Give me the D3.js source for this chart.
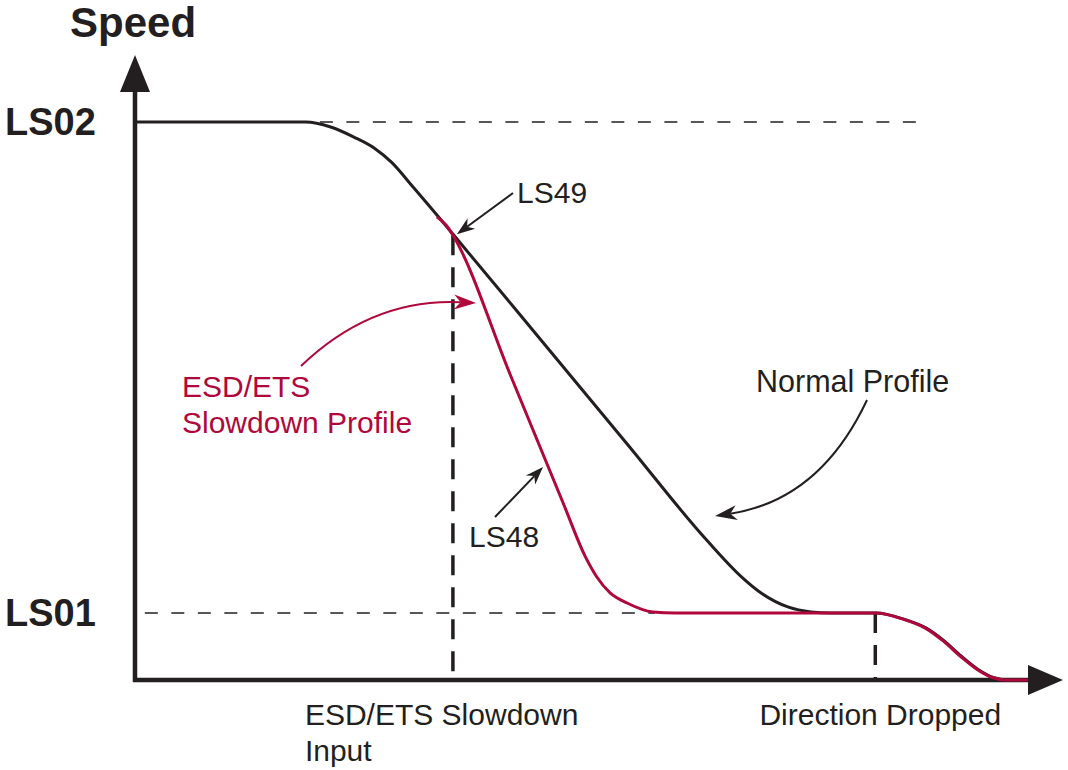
<!DOCTYPE html>
<html>
<head>
<meta charset="utf-8">
<script src="https://cdn.jsdelivr.net/npm/d3@7"></script>
<style>
  html, body { margin: 0; padding: 0; background: #fff; }
  svg { display: block; font-family: "Liberation Sans", Arial, Helvetica, sans-serif; }
</style>
</head>
<body>
<svg id="chart" width="1068" height="770"></svg>
<script>
// Speed levels (percent of full speed)
const levelNames = ["LS02", "LS01"];
const levelValues = [100, 12];

// Event markers along the time axis
const eventNames = ["ESD/ETS Slowdown Input", "Direction Dropped"];
const eventTimes = [35.6, 82.9];
const eventSpeeds = [79.7, 12];

// Normal deceleration profile (time, speed)
const normalT = [0, 19.0, 21.8, 24.4, 26.7, 28.6, 31.1, 35.6, 45, 55, 64, 67.8, 70.0, 73.0, 75.6, 77.8, 82.9,
                 86.0, 88.5, 90.5, 92.4, 94.3, 96.1, 97.4, 100];
const normalV = [100, 100, 99.1, 97.3, 95.3, 92.8, 88.2, 79.7, 61.6, 42.3, 24.9, 18.5, 15.6, 13.1, 12.2, 12.0, 12.0,
                 10.9, 9.3, 7.0, 4.3, 1.9, 0.4, 0, 0];

// ESD/ETS slowdown profile (time, speed)
const esdT = [33.8, 34.9, 35.6, 42, 48, 50.4, 51.7, 53.2, 55.1, 58.0, 60.5, 70, 82.9,
              86.0, 88.5, 90.5, 92.4, 94.3, 96.1, 97.4, 100];
const esdV = [83.0, 81.4, 79.7, 54.8, 31.5, 22.2, 18.5, 15.6, 13.8, 12.2, 12.0, 12.0, 12.0,
              10.9, 9.3, 7.0, 4.3, 1.9, 0.4, 0, 0];

// Extents of the horizontal guide lines (time)
const guideFrom = [20.7, 1.1];
const guideTo = [88.6, 58.2];

const INK = "#231f20";
const RED = "#b0083c";

const svg = d3.select("#chart");
const x = d3.scaleLinear().domain([0, 100]).range([135, 1028]);
const y = d3.scaleLinear().domain([0, 100]).range([680, 122]);

const line = d3.line().x(d => x(d[0])).y(d => y(d[1])).curve(d3.curveMonotoneX);
const normal = normalT.map((t, i) => [t, normalV[i]]);
const esd = esdT.map((t, i) => [t, esdV[i]]);

// Horizontal guides at each speed level
svg.append("g").selectAll("line").data(levelValues).join("line")
  .attr("x1", (d, i) => x(guideFrom[i])).attr("x2", (d, i) => x(guideTo[i]))
  .attr("y1", d => y(d)).attr("y2", d => y(d))
  .attr("stroke", INK).attr("stroke-width", 1.5).attr("stroke-dasharray", "13,13.5");

// Vertical event guides
svg.append("g").selectAll("line").data(eventTimes).join("line")
  .attr("x1", d => x(d)).attr("x2", d => x(d))
  .attr("y1", (d, i) => y(eventSpeeds[i])).attr("y2", y(0))
  .attr("stroke", INK).attr("stroke-width", 3.5).attr("stroke-dasharray", "20,12");

// Axes with arrowheads
svg.append("line").attr("x1", x(0)).attr("x2", x(0)).attr("y1", y(0) + 2).attr("y2", 88)
  .attr("stroke", INK).attr("stroke-width", 4.5);
svg.append("path").attr("d", `M${x(0) - 15},92 L${x(0)},55 L${x(0) + 15},92 Z`).attr("fill", INK);
svg.append("line").attr("x1", x(0) - 2).attr("x2", 1030).attr("y1", y(0)).attr("y2", y(0))
  .attr("stroke", INK).attr("stroke-width", 4.5);
svg.append("path").attr("d", `M1028,${y(0) - 15} L1063,${y(0)} L1028,${y(0) + 15} Z`).attr("fill", INK);

// Profiles
svg.append("path").attr("d", line(normal)).attr("fill", "none")
  .attr("stroke", INK).attr("stroke-width", 3).attr("transform", "translate(1,0)");
svg.append("path").attr("d", line(esd)).attr("fill", "none")
  .attr("stroke", RED).attr("stroke-width", 3);

// Axis titles and level labels
svg.append("text").attr("x", 70).attr("y", 37).attr("font-size", 42).attr("font-weight", "bold")
  .attr("fill", INK).text("Speed");
svg.append("g").selectAll("text").data(levelNames).join("text")
  .attr("x", 5).attr("y", (d, i) => y(levelValues[i])).attr("dy", "0.35em")
  .attr("font-size", 38).attr("font-weight", "bold").attr("fill", INK).text(d => d);

// Event labels below the time axis
const ev1 = svg.append("text").attr("x", x(eventTimes[0]) - 148).attr("y", 725)
  .attr("font-size", 30).attr("fill", INK);
ev1.append("tspan").text("ESD/ETS Slowdown");
ev1.append("tspan").attr("x", x(eventTimes[0]) - 148).attr("dy", 36).text("Input");
svg.append("text").attr("x", x(eventTimes[1]) + 5).attr("y", 725).attr("text-anchor", "middle")
  .attr("font-size", 30).attr("fill", INK).text(eventNames[1]);

// Annotation arrows
function arrow(p0, c, tip, len, halfW, color, width) {
  const dx = tip[0] - c[0], dy = tip[1] - c[1];
  const L = Math.hypot(dx, dy), ux = dx / L, uy = dy / L, nx = -uy, ny = ux;
  const notch = [tip[0] - 0.7 * len * ux, tip[1] - 0.7 * len * uy];
  const bx = tip[0] - len * ux, by = tip[1] - len * uy;
  const p = d3.path();
  p.moveTo(p0[0], p0[1]);
  if (c === p0) p.lineTo(notch[0], notch[1]);
  else p.quadraticCurveTo(c[0], c[1], notch[0], notch[1]);
  svg.append("path").attr("d", p.toString()).attr("fill", "none")
    .attr("stroke", color).attr("stroke-width", width);
  svg.append("path")
    .attr("d", `M${tip[0]},${tip[1]} L${bx + halfW * nx},${by + halfW * ny} L${notch[0]},${notch[1]} L${bx - halfW * nx},${by - halfW * ny} Z`)
    .attr("fill", color);
}

const kx = x(eventTimes[0]), ky = y(eventSpeeds[0]);
const p49 = [513, 193];
arrow(p49, p49, [kx + 4, ky - 1], 18, 6.5, INK, 2);
const p48 = [495, 517];
arrow(p48, p48, [543, 467], 18, 6.5, INK, 2);
arrow([301, 366], [372, 298], [476, 303], 22, 7.5, RED, 2);
arrow([867, 400], [820, 500], [715, 516], 22, 7.5, INK, 2);

// Annotation texts
svg.append("text").attr("x", 517).attr("y", 203).attr("font-size", 30).attr("fill", INK).text("LS49");
svg.append("text").attr("x", 469).attr("y", 547).attr("font-size", 30).attr("fill", INK).text("LS48");
svg.append("text").attr("x", 756).attr("y", 392).attr("font-size", 30.5).attr("fill", INK).text("Normal Profile");
const lab = svg.append("text").attr("x", 182).attr("y", 397).attr("font-size", 30).attr("fill", RED);
lab.append("tspan").text("ESD/ETS");
lab.append("tspan").attr("x", 182).attr("dy", 36).text("Slowdown Profile");
</script>
</body>
</html>
